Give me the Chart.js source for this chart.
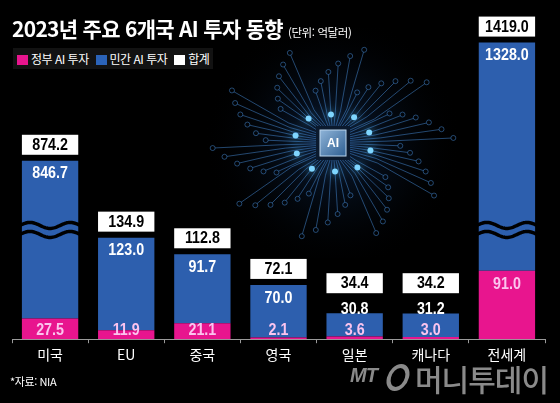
<!DOCTYPE html>
<html lang="ko">
<head>
<meta charset="utf-8">
<script src="https://cdn.jsdelivr.net/npm/chart.js@4.4.1/dist/chart.umd.min.js"></script>
<style>
html, body { margin: 0; padding: 0; background: #000; }
#wrap { position: relative; width: 560px; height: 403px; overflow: hidden; background: #000;
        font-family: "Noto Sans CJK KR", "Noto Sans", sans-serif; color: #fff; }
#chartBox { position: absolute; left: 0; top: 0; width: 560px; height: 403px; }
.title { position: absolute; left: 12px; top: 13px; font-size: 21px; font-weight: 700;
         letter-spacing: -0.7px; white-space: nowrap; z-index: 2; }
.title small { font-size: 11.5px; font-weight: 400; letter-spacing: -0.4px; margin-left: 5px; }
.legend { position: absolute; left: 13px; top: 48px; height: 21px; width: 200px; background: #121212;
          font-size: 12px; line-height: 21px; letter-spacing: -0.5px; white-space: nowrap; z-index: 2; }
.legend .sw { display: inline-block; width: 11px; height: 10px; margin: 0 3px 0 4px; vertical-align: -1px; }
.source { position: absolute; left: 10px; top: 373px; font-size: 11px; letter-spacing: -0.4px; z-index: 2; }
.logo { position: absolute; left: 349px; top: 360px; height: 34px; color: #8a8a8a; white-space: nowrap; z-index: 2; }
.logo .mt { position: absolute; left: 1px; top: 4px; font: italic 700 20px "Liberation Sans", sans-serif; letter-spacing: -1px; }
.logo .ring { position: absolute; left: 38px; top: 4px; width: 14px; height: 19px; border: 4px solid #8a8a8a;
              border-radius: 50%; transform: skewX(-14deg); }
.logo .name { position: absolute; left: 66px; top: -4px; font-size: 30px; font-weight: 500; letter-spacing: -1px; }
</style>
</head>
<body>
<div id="wrap">
  <div id="chartBox"><canvas id="investChart"></canvas></div>
  <div class="title">2023년 주요 6개국 AI 투자 동향<small>(단위: 억달러)</small></div>
  <div class="legend"><span class="sw" style="background:#e8158e"></span>정부 AI 투자 <span class="sw" style="background:#2b63b8"></span>민간 AI 투자 <span class="sw" style="background:#fff"></span>합계</div>
  <div class="source">*자료: NIA</div>
  <div class="logo"><span class="mt">MT</span><span class="ring"></span><span class="name">머니투데이</span></div>
</div>
<script>
const categories = ['미국', 'EU', '중국', '영국', '일본', '캐나다', '전세계'];
const govInvest = [27.5, 11.9, 21.1, 2.1, 3.6, 3.0, 91.0];
const privInvest = [846.7, 123.0, 91.7, 70.0, 30.8, 31.2, 1328.0];
const totals = [874.2, 134.9, 112.8, 72.1, 34.4, 34.2, 1419.0];

// broken axis: real value -> shown (compressed) value
const breakReal = [0, 145, 874.2, 1419];
const breakShown = [0, 145, 237, 394];

const MAGENTA = '#e8158e';
const BLUE = '#2d5fae';

function toShown(v) {
    const n = breakReal.length;
    for (let i = 1; i < n; i++) {
        if (v <= breakReal[i] || i === n - 1) {
            const t = (v - breakReal[i - 1]) / (breakReal[i] - breakReal[i - 1]);
            return breakShown[i - 1] + t * (breakShown[i] - breakShown[i - 1]);
        }
    }
    return v;
}
function fromShown(s) {
    const n = breakShown.length;
    for (let i = 1; i < n; i++) {
        if (s <= breakShown[i] || i === n - 1) {
            const t = (s - breakShown[i - 1]) / (breakShown[i] - breakShown[i - 1]);
            return breakReal[i - 1] + t * (breakReal[i] - breakReal[i - 1]);
        }
    }
    return s;
}

class BrokenLinearScale extends Chart.LinearScale {
    getPixelForValue(value) {
        return this.getPixelForDecimal((toShown(value) - this.min) / (this.max - this.min));
    }
    getValueForPixel(pixel) {
        return fromShown(this.min + this.getDecimalForPixel(pixel) * (this.max - this.min));
    }
}
BrokenLinearScale.id = 'brokenLinear';
BrokenLinearScale.defaults = Chart.LinearScale.defaults;
Chart.register(BrokenLinearScale);

// background circuit "brain" decoration
function drawBrain(ctx) {
    const cx = 333, cy = 143, rx = 118, ry = 94;
    ctx.save();
    const g = ctx.createRadialGradient(cx, cy, 4, cx, cy, 130);
    g.addColorStop(0, 'rgba(40,110,210,0.28)');
    g.addColorStop(1, 'rgba(0,0,0,0)');
    ctx.fillStyle = g;
    ctx.fillRect(cx - 140, cy - 115, 280, 230);
    const n = 60;
    ctx.lineWidth = 1;
    for (let k = 0; k < n; k++) {
        const a = (k + 0.5) / n * Math.PI * 2;
        const dx = Math.cos(a), dy = Math.sin(a);
        const reach = 0.55 + ((k * 7) % 6) * 0.09;
        const s = 15 / Math.max(Math.abs(dx), Math.abs(dy));
        const sx = cx + dx * s, sy = cy + dy * s;
        const ex = cx + dx * rx * reach, ey = cy + dy * ry * reach;
        const mx = cx + dx * rx * reach * 0.45, my = sy + (ey - sy) * 0.25;
        ctx.strokeStyle = 'rgba(70,140,215,0.5)';
        ctx.beginPath();
        ctx.moveTo(sx, sy);
        ctx.lineTo(mx, my);
        ctx.lineTo(ex, ey);
        ctx.stroke();
        ctx.beginPath();
        ctx.arc(ex + dx * 2.5, ey + dy * 2.5, 2.5, 0, Math.PI * 2);
        ctx.stroke();
        if (k % 6 === 2) {
            ctx.save();
            ctx.shadowColor = '#4fc3ff';
            ctx.shadowBlur = 10;
            ctx.fillStyle = '#7fd6ff';
            ctx.beginPath();
            ctx.arc(mx, my, 3, 0, Math.PI * 2);
            ctx.fill();
            ctx.restore();
        }
    }
    // chip
    ctx.fillStyle = '#0b1a2e';
    ctx.fillRect(cx - 17, cy - 17, 34, 34);
    const cg = ctx.createLinearGradient(cx - 13, cy - 13, cx + 13, cy + 13);
    cg.addColorStop(0, '#8fb4d8');
    cg.addColorStop(1, '#2e5f92');
    ctx.fillStyle = cg;
    ctx.fillRect(cx - 13, cy - 13, 26, 26);
    ctx.strokeStyle = '#bcd6ee';
    ctx.strokeRect(cx - 13, cy - 13, 26, 26);
    ctx.fillStyle = '#fff';
    ctx.font = 'bold 12px "Liberation Sans", sans-serif';
    ctx.textAlign = 'center';
    ctx.textBaseline = 'middle';
    ctx.fillText('AI', cx, cy + 1);
    ctx.restore();
}

const backgroundPlugin = {
    id: 'brainBackground',
    beforeDraw(chart) {
        drawBrain(chart.ctx);
    }
};

function drawWave(ctx, left, right, y) {
    ctx.beginPath();
    const w = right - left;
    for (let x = 0; x <= w; x++) {
        const yy = y + Math.sin(x / w * Math.PI * 3 + Math.PI) * 3;
        if (x === 0) ctx.moveTo(left + x, yy); else ctx.lineTo(left + x, yy);
    }
    ctx.stroke();
}

// condensed number text
function narrowText(ctx, text, x, y) {
    ctx.save();
    ctx.translate(x, y);
    ctx.scale(0.84, 1);
    ctx.fillText(text, 0, 0);
    ctx.restore();
}

const labelPlugin = {
    id: 'barLabels',
    afterDatasetsDraw(chart) {
        const ctx = chart.ctx;
        const yScale = chart.scales.y;
        const govMeta = chart.getDatasetMeta(0);
        const privMeta = chart.getDatasetMeta(1);
        const base = yScale.getPixelForValue(0);
        const breakPix = yScale.getPixelForValue(breakReal[1] + 1);
        ctx.save();
        ctx.textAlign = 'center';
        ctx.textBaseline = 'middle';
        categories.forEach((c, i) => {
            const govBar = govMeta.data[i];
            const privBar = privMeta.data[i];
            const x = privBar.x;
            const half = privBar.width / 2;
            const top = privBar.y;
            // axis break marks
            if (totals[i] > breakReal[1] + 30) {
                ctx.strokeStyle = '#000';
                ctx.lineWidth = 3.5;
                drawWave(ctx, x - half - 2, x + half + 2, breakPix - 4.5);
                drawWave(ctx, x - half - 2, x + half + 2, breakPix + 4.5);
            }
            const govY = Math.min(govBar.y + 14, base - 9);
            const privY = Math.min(top + 13, govY - 21);
            const boxBottom = Math.min(top - 6, privY - 16);
            ctx.font = 'bold 17px "Liberation Sans", sans-serif';
            ctx.fillStyle = '#fbc4ee';
            narrowText(ctx, govInvest[i].toFixed(1), x, govY);
            ctx.fillStyle = '#fff';
            narrowText(ctx, privInvest[i].toFixed(1), x, privY);
            ctx.fillRect(x - half, boxBottom - 20, half * 2, 20);
            ctx.fillStyle = '#000';
            narrowText(ctx, totals[i].toFixed(1), x, boxBottom - 9.5);
        });
        ctx.restore();
    }
};

const chart = new Chart(document.getElementById('investChart').getContext('2d'), {
    type: 'bar',
    data: {
        labels: categories,
        datasets: [
            { label: '정부 AI 투자', data: govInvest, backgroundColor: MAGENTA, stack: 'ai' },
            { label: '민간 AI 투자', data: privInvest, backgroundColor: BLUE, stack: 'ai' }
        ]
    },
    options: {
        responsive: true,
        maintainAspectRatio: false,
        animation: false,
        layout: { padding: { left: 12, right: 15, top: 20, bottom: 37 } },
        datasets: { bar: { categoryPercentage: 1, barPercentage: 0.74 } },
        plugins: { legend: { display: false }, tooltip: { enabled: false } },
        scales: {
            x: {
                stacked: true,
                grid: { drawOnChartArea: false, offset: true, color: '#9a9a9a', tickLength: 4 },
                border: { color: '#9a9a9a' },
                ticks: { color: '#fff', padding: 3, font: { family: '"Noto Sans CJK KR"', size: 14 } }
            },
            y: {
                type: 'brokenLinear',
                stacked: true,
                display: false,
                min: 0,
                max: 424
            }
        }
    },
    plugins: [backgroundPlugin, labelPlugin]
});
</script>
</body>
</html>
